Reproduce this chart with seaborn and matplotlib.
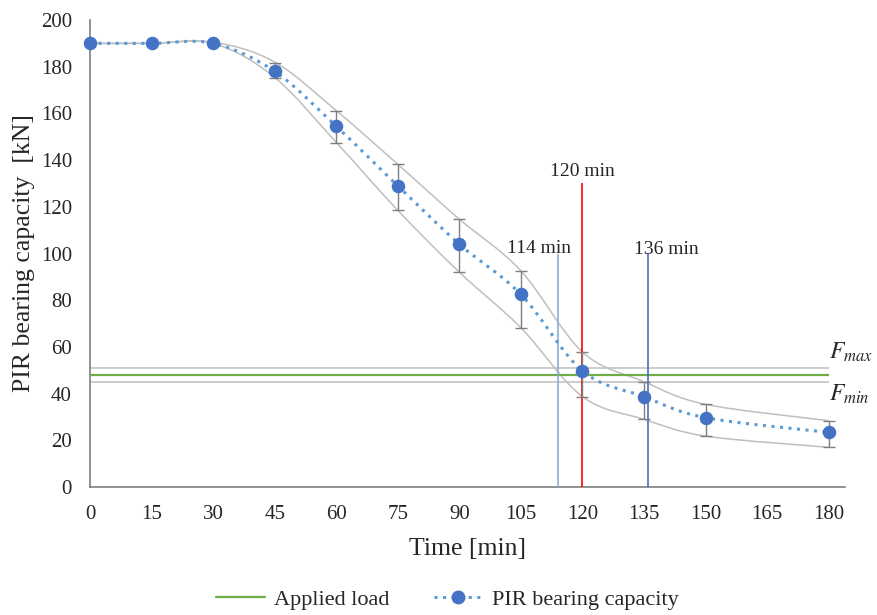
import numpy as np
import pandas as pd
import matplotlib
matplotlib.use("Agg")
import matplotlib.pyplot as plt
from matplotlib.path import Path
from matplotlib.patches import PathPatch
from matplotlib.lines import Line2D
import seaborn as sns

# Data
time_min = [0, 15, 30, 45, 60, 75, 90, 105, 120, 135, 150, 180]
capacity = [190, 190, 190, 178, 154.5, 129, 104, 82.5, 49.7, 38.7, 29.7, 23.4]
err_low = [0, 0, 0, 2.8, 7, 10.5, 12, 14.3, 11, 9.7, 7.9, 6.4]
err_high = [0, 0, 0, 3.5, 6.7, 9.2, 10.7, 10.1, 8.1, 6.4, 5.7, 5.0]
upper_env = [190, 190, 190.5, 182, 161.2, 138.2, 114.7, 92.6, 57.8, 45.1, 35.4, 28.4]
lower_env = [190, 190, 190, 175.4, 147.6, 118.5, 92.0, 68.2, 38.7, 29.0, 21.8, 17.0]

applied_load = 48
f_max = 50.8
f_min = 45.1
marker_times = [114, 120, 136]
marker_tops = [100, 130, 100]
marker_colors = ["#8faadc", "#ff0000", "#4472c4"]

df = pd.DataFrame({"Time": time_min, "Capacity": capacity})


def smooth_path(x, y):
    # Excel-style smoothed line as Bezier segments through the data points
    pts = np.column_stack([x, y]).astype(float)
    verts = [pts[0]]
    codes = [Path.MOVETO]
    n = len(pts)
    for i in range(n - 1):
        p0 = pts[i - 1] if i > 0 else pts[i]
        p1 = pts[i]
        p2 = pts[i + 1]
        p3 = pts[i + 2] if i + 2 < n else pts[i + 1]
        verts += [p1 + (p2 - p0) / 6, p2 - (p3 - p1) / 6, p2]
        codes += [Path.CURVE4] * 3
    return Path(verts, codes)


sns.set_style("white")
plt.rcParams["font.family"] = ["Liberation Serif", "DejaVu Serif"]
plt.rcParams["mathtext.fontset"] = "stix"

fig = plt.figure(figsize=(8.77, 6.15), dpi=100)
ax = fig.add_axes([0.1026, 0.2081, 0.861, 0.7594])

# envelope curves
for env in (upper_env, lower_env):
    ax.add_patch(PathPatch(smooth_path(time_min, env), fill=False,
                           edgecolor="#bfbfbf", lw=1.1, zorder=2))

# reference horizontal lines
ax.hlines([f_max, f_min], 0, 180, color="#bfbfbf", lw=1.1, zorder=2)
ax.hlines(applied_load, 0, 180, color="#70ad47", lw=1.6, zorder=3)

# vertical time markers
for t, top, c in zip(marker_times, marker_tops, marker_colors):
    ax.vlines(t, 0, top, color=c, lw=1.2, zorder=3)
ax.text(120, 131.5, "120 min", ha="center", va="bottom", fontsize=14)
ax.text(109.5, 98.5, "114 min", ha="center", va="bottom", fontsize=14)
ax.text(140.5, 98, "136 min", ha="center", va="bottom", fontsize=14)
ax.text(180, 57.8, "$F_{max}$", ha="left", va="center", fontsize=17)
ax.text(180, 39.5, "$F_{min}$", ha="left", va="center", fontsize=17)

# main series: dotted smoothed line, error bars, markers
ax.add_patch(PathPatch(smooth_path(time_min, capacity), fill=False,
                       edgecolor="#5b9bd5", lw=2.2, linestyle=(0, (1, 1.8)),
                       zorder=4))
ax.errorbar(time_min, capacity, yerr=[err_low, err_high], fmt="none",
            ecolor="#7f7f7f", elinewidth=1, capsize=4, capthick=1, zorder=4)
sns.scatterplot(data=df, x="Time", y="Capacity", ax=ax, color="#4472c4",
                s=95, edgecolor="#4472c4", linewidth=0, zorder=5, legend=False,
                clip_on=False)

ax.set_xlim(0, 184)
ax.set_ylim(0, 200)
ax.set_xticks(range(0, 181, 15))
ax.set_yticks(range(0, 201, 20))
ax.tick_params(direction="in", length=6, width=1, color="#7f7f7f",
               labelsize=15, pad=13)
for side in ("top", "right"):
    ax.spines[side].set_visible(False)
for side in ("left", "bottom"):
    ax.spines[side].set_color("#7f7f7f")
    ax.spines[side].set_linewidth(1.2)

ax.set_xlabel("Time [min]", fontsize=18.5, labelpad=10)
ax.set_ylabel("PIR bearing capacity  [kN]", fontsize=18.5, labelpad=4)

handles = [
    Line2D([], [], color="#70ad47", lw=1.6),
    Line2D([], [], color="#5b9bd5", lw=2.2, linestyle=(0, (1, 1.8)),
           marker="o", markersize=9, markerfacecolor="#4472c4",
           markeredgecolor="#4472c4"),
]
fig.legend(handles, ["Applied load", "PIR bearing capacity"], loc="center",
           bbox_to_anchor=(0.51, 0.025), ncol=2, frameon=False, fontsize=16,
           handlelength=2.2, columnspacing=2.0, handletextpad=0.4)

fig.savefig("out.png", dpi=100)
